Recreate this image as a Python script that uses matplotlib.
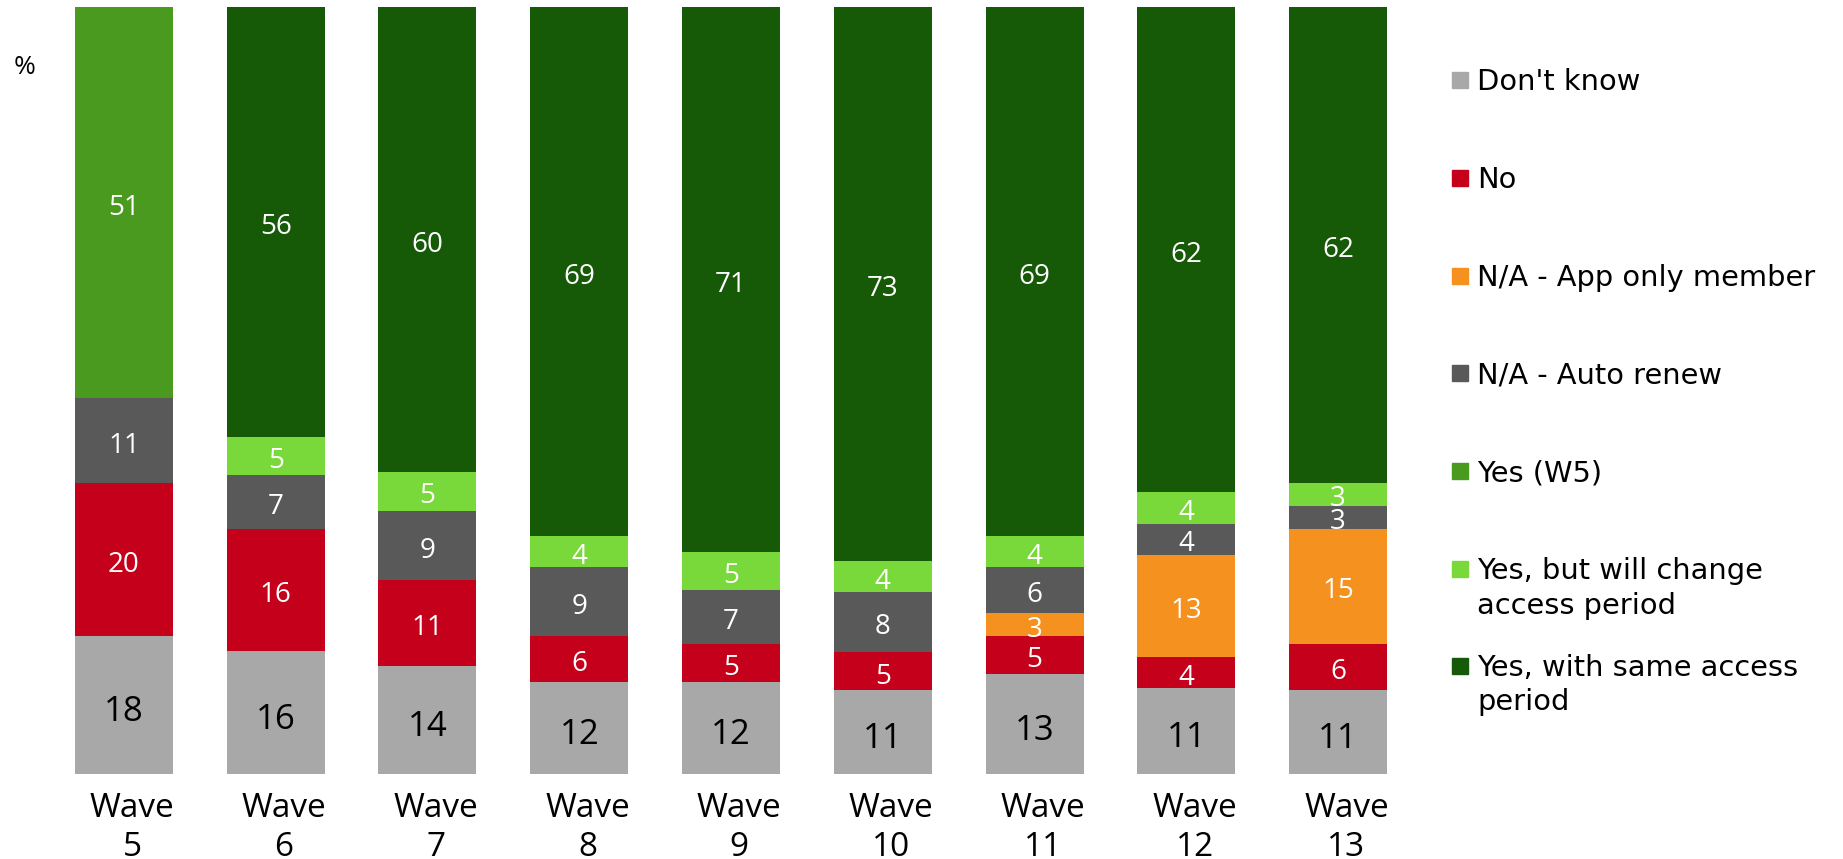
import numpy as np
import matplotlib
matplotlib.use("Agg")
import matplotlib.pyplot as plt
from matplotlib.patches import Rectangle

waves = ["Wave\n5", "Wave\n6", "Wave\n7", "Wave\n8", "Wave\n9",
         "Wave\n10", "Wave\n11", "Wave\n12", "Wave\n13"]

categories = ["Don't know", "No", "N/A - App only member", "N/A - Auto renew",
              "Yes (W5)", "Yes, but will change\naccess period",
              "Yes, with same access\nperiod"]
colors = ["#a8a8a8", "#c5001a", "#f5911f", "#595959",
          "#4a9a20", "#7ad93a", "#165a07"]

dont_know = [18, 16, 14, 12, 12, 11, 13, 11, 11]
no = [20, 16, 11, 6, 5, 5, 5, 4, 6]
app_only = [0, 0, 0, 0, 0, 0, 3, 13, 15]
auto_renew = [11, 7, 9, 9, 7, 8, 6, 4, 3]
yes_w5 = [51, 0, 0, 0, 0, 0, 0, 0, 0]
yes_change = [0, 5, 5, 4, 5, 4, 4, 4, 3]
yes_same = [0, 56, 60, 69, 71, 73, 69, 62, 62]

series = [dont_know, no, app_only, auto_renew, yes_w5, yes_change, yes_same]

W, H = 1843, 859
fig = plt.figure(figsize=(W / 100, H / 100), dpi=100)
ax = fig.add_axes([48 / W, 1 - 774 / H, 1366 / W, 767 / H])

vals = np.array(series, dtype=float)
totals = vals.sum(axis=0)
shares = vals / totals * 100
x = np.arange(len(waves))
bottom = np.zeros(len(waves))

for i, (cat, col) in enumerate(zip(categories, colors)):
    ax.bar(x, shares[i], 0.645, bottom=bottom, color=col, edgecolor="none")
    for j in range(len(waves)):
        if vals[i][j] == 0:
            continue
        yc = bottom[j] + shares[i][j] / 2
        if i == 0:
            fs, tc, dy = 25, "black", -5.0
        else:
            fs, tc, dy = 20, "white", -3.8
        ax.annotate("%d" % vals[i][j], (x[j], yc), xytext=(0, dy),
                    textcoords="offset points", ha="center", va="center",
                    fontsize=fs, color=tc, family="Open Sans")
    bottom += shares[i]

ax.set_xlim(-0.5, 8.5)
ax.set_ylim(0, 100)
ax.axis("off")

# wave labels under bars (baseline of the last line)
for j, lab in enumerate(waves):
    ax.annotate(lab, (x[j] + 0.055, 0), xytext=(0, -59),
                textcoords="offset points", ha="center", va="baseline",
                fontsize=24, family="Open Sans", linespacing=1.22)

fig.text(25 / W, 1 - 68 / H, "%", ha="center", va="center",
         fontsize=19, family="Open Sans")

# legend
leg_y = [80, 178, 276, 373, 471, 569, 666]
for cat, col, yy in zip(categories, colors, leg_y):
    fig.add_artist(Rectangle((1452 / W, 1 - (yy + 8) / H), 16 / W, 16 / H,
                             transform=fig.transFigure, color=col))
    base = yy + 10.5 + 34 * cat.count("\n")
    fig.text(1477 / W, 1 - base / H, cat, ha="left", va="baseline",
             fontsize=20.8, family="DejaVu Sans", linespacing=1.28)

fig.savefig("out.png", dpi=100)
